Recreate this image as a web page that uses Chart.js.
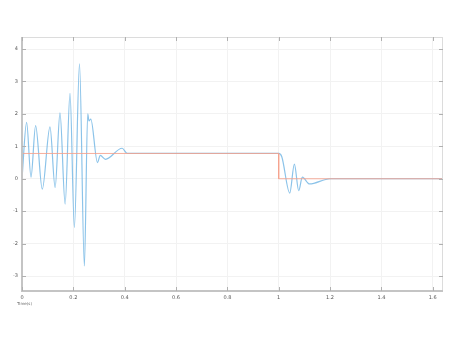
<!DOCTYPE html>
<html>
<head>
<meta charset="utf-8">
<script src="https://cdn.jsdelivr.net/npm/chart.js@4/dist/chart.umd.min.js"></script>
<style>
	html, body { margin: 0; padding: 0; background: #fff; }
	#chart { display: block; }
</style>
</head>
<body>
<canvas id="chart" width="454" height="341"></canvas>
<script>
// response signal (blue) at its turning points
const responseT = [0, 0.018, 0.035, 0.053, 0.079, 0.109, 0.129, 0.148, 0.168, 0.187, 0.204, 0.224, 0.243, 0.256, 0.261, 0.268, 0.294, 0.305, 0.325, 0.39, 0.41, 1.0, 1.012, 1.043, 1.061, 1.078, 1.092, 1.12, 1.2, 1.64];
const responseY = [0, 1.74, 0.05, 1.64, -0.32, 1.60, -0.27, 2.03, -0.78, 2.63, -1.50, 3.54, -2.69, 2.00, 1.78, 1.84, 0.50, 0.72, 0.60, 0.94, 0.78, 0.78, 0.68, -0.44, 0.45, -0.37, 0.05, -0.16, 0, 0];

// reference step (red)
const refT = [0, 1.0, 1.0, 1.64];
const refY = [0.78, 0.78, 0, 0];

const xTicks = [0, 0.2, 0.4, 0.6, 0.8, 1, 1.2, 1.4, 1.6];
const yTicks = [-3, -2, -1, 0, 1, 2, 3, 4];
const xLabel = "Time(s)";

const toPoints = (xs, ys) => xs.map((x, i) => ({ x: x, y: ys[i] }));

// frame + inside tick marks like the original
const framePlugin = {
	id: "frame",
	afterDraw(chart) {
		const ctx = chart.ctx;
		const a = chart.chartArea;
		const xs = chart.scales.x;
		const ys = chart.scales.y;
		ctx.save();
		ctx.strokeStyle = "#dcdcdc";
		ctx.lineWidth = 1;
		ctx.strokeRect(a.left + 0.5, a.top + 0.5, a.right - a.left - 1, a.bottom - a.top - 1);
		ctx.strokeStyle = "#c4c4c4";
		ctx.lineWidth = 2;
		ctx.beginPath();
		ctx.moveTo(a.left, a.top);
		ctx.lineTo(a.left, a.bottom);
		ctx.lineTo(a.right, a.bottom);
		ctx.stroke();
		ctx.strokeStyle = "#b0b0b0";
		ctx.lineWidth = 1;
		ctx.beginPath();
		xTicks.forEach(v => {
			const px = Math.round(xs.getPixelForValue(v)) + 0.5;
			ctx.moveTo(px, a.bottom); ctx.lineTo(px, a.bottom - 4);
			ctx.moveTo(px, a.top); ctx.lineTo(px, a.top + 4);
		});
		yTicks.forEach(v => {
			const py = Math.round(ys.getPixelForValue(v)) + 0.5;
			ctx.moveTo(a.left, py); ctx.lineTo(a.left + 4, py);
			ctx.moveTo(a.right, py); ctx.lineTo(a.right - 4, py);
		});
		ctx.stroke();
		ctx.fillStyle = "#666";
		ctx.font = "4px 'DejaVu Sans'";
		ctx.textAlign = "left";
		ctx.textBaseline = "middle";
		ctx.fillText(xLabel, 17, 304);
		ctx.restore();
	}
};

const ctx = document.getElementById("chart").getContext("2d");
new Chart(ctx, {
	type: "scatter",
	data: {
		datasets: [
			{
				label: "ref",
				data: toPoints(refT, refY),
				showLine: true,
				borderColor: "rgba(245, 160, 140, 0.85)",
				borderWidth: 1,
				pointRadius: 0,
				tension: 0
			},
			{
				label: "response",
				data: toPoints(responseT, responseY),
				showLine: true,
				borderColor: "rgba(100, 175, 225, 0.75)",
				borderWidth: 1.2,
				pointRadius: 0,
				cubicInterpolationMode: "monotone"
			}
		]
	},
	options: {
		responsive: false,
		animation: false,
		layout: { padding: { top: 37, right: 11, left: 0, bottom: 0 } },
		plugins: {
			legend: { display: false },
			tooltip: { enabled: false }
		},
		scales: {
			x: {
				type: "linear",
				min: 0,
				max: 1.64,
				afterBuildTicks: (s) => { s.ticks = xTicks.map(v => ({ value: v })); },
				afterFit: (s) => { s.height = 50; },
				grid: { color: "#f2f2f2", drawTicks: false },
				border: { display: false },
				ticks: {
					font: { size: 5, family: "DejaVu Sans" },
					color: "#555",
					padding: 4,
					maxRotation: 0,
					callback: (v) => String(v)
				}
			},
			y: {
				min: -3.46,
				max: 4.37,
				afterBuildTicks: (s) => { s.ticks = yTicks.map(v => ({ value: v })); },
				afterFit: (s) => { s.width = 22; },
				grid: { color: "#f2f2f2", drawTicks: false },
				border: { display: false },
				ticks: {
					font: { size: 5, family: "DejaVu Sans" },
					color: "#555",
					padding: 4,
					callback: (v) => String(v)
				}
			}
		}
	},
	plugins: [framePlugin]
});
</script>
</body>
</html>
